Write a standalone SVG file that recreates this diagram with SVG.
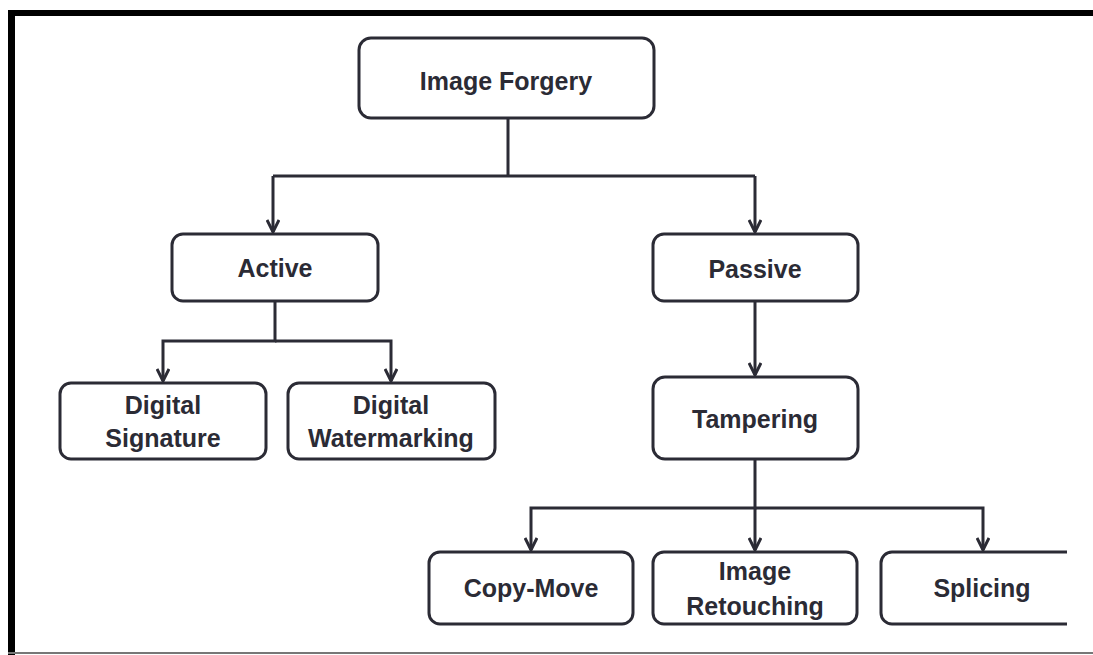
<svg xmlns="http://www.w3.org/2000/svg" width="1093" height="655" viewBox="0 0 1093 655">
<style>
.box{fill:#fff;stroke:#2b2b35;stroke-width:3}
.lbl{font-family:"Liberation Sans",Arial,sans-serif;font-weight:bold;font-size:25px;fill:#2b2b35;text-anchor:middle}
.con{fill:none;stroke:#2b2b35;stroke-width:3}
</style>
<defs>
<marker id="arr" markerWidth="16" markerHeight="14" refX="13" refY="7" orient="auto" markerUnits="userSpaceOnUse">
<path d="M1,1 L13,7 L1,13" fill="none" stroke="#2b2b35" stroke-width="3"/>
</marker>
<clipPath id="clipR"><rect x="0" y="0" width="1067" height="655"/></clipPath>
</defs>
<rect x="0" y="0" width="1093" height="655" fill="#fff"/>
<g id="frame">
<rect x="8" y="10" width="1085" height="6" fill="#000"/>
<rect x="8" y="10" width="7" height="645" fill="#000"/>
<rect x="8" y="652" width="1085" height="2" fill="#777"/>
</g>
<g id="connectors">
<path class="con" d="M508,118 V176"/>
<path class="con" d="M273,176 H755"/>
<path class="con" d="M273,176 V232" marker-end="url(#arr)"/>
<path class="con" d="M755,176 V232" marker-end="url(#arr)"/>
<path class="con" d="M275,301 V341 H163 V381" marker-end="url(#arr)"/>
<path class="con" d="M275,341 H391 V381" marker-end="url(#arr)"/>
<path class="con" d="M755,301 V375" marker-end="url(#arr)"/>
<path class="con" d="M755,459 V508 H531 V550" marker-end="url(#arr)"/>
<path class="con" d="M755,508 V550" marker-end="url(#arr)"/>
<path class="con" d="M755,508 H983 V550" marker-end="url(#arr)"/>
</g>
<g id="n-image-forgery">
<rect class="box" x="359" y="38" width="295" height="80" rx="12"/>
<text class="lbl" x="506" y="90">Image Forgery</text>
</g>
<g id="n-active">
<rect class="box" x="172" y="234" width="206" height="67" rx="11"/>
<text class="lbl" x="275" y="277">Active</text>
</g>
<g id="n-passive">
<rect class="box" x="653" y="234" width="205" height="67" rx="11"/>
<text class="lbl" x="755" y="278">Passive</text>
</g>
<g id="n-digital-signature">
<rect class="box" x="60" y="383" width="206" height="76" rx="11"/>
<text class="lbl" x="163" y="414">Digital</text>
<text class="lbl" x="163" y="447">Signature</text>
</g>
<g id="n-digital-watermarking">
<rect class="box" x="288" y="383" width="207" height="76" rx="11"/>
<text class="lbl" x="391" y="414">Digital</text>
<text class="lbl" x="391" y="447">Watermarking</text>
</g>
<g id="n-tampering">
<rect class="box" x="653" y="377" width="205" height="82" rx="12"/>
<text class="lbl" x="755" y="428">Tampering</text>
</g>
<g id="n-copy-move">
<rect class="box" x="429" y="552" width="204" height="72" rx="11"/>
<text class="lbl" x="531" y="597">Copy-Move</text>
</g>
<g id="n-image-retouching">
<rect class="box" x="653" y="552" width="204" height="72" rx="11"/>
<text class="lbl" x="755" y="580">Image</text>
<text class="lbl" x="755" y="615">Retouching</text>
</g>
<g id="n-splicing">
<rect class="box" x="881" y="552" width="204" height="72" rx="11" clip-path="url(#clipR)"/>
<text class="lbl" x="982" y="597">Splicing</text>
</g>
</svg>
